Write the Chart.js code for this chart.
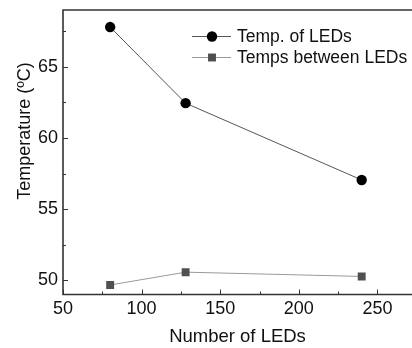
<!DOCTYPE html>
<html>
<head>
<meta charset="utf-8">
<script src="https://cdn.jsdelivr.net/npm/chart.js@4.4.1/dist/chart.umd.min.js"></script>
<style>
html,body{margin:0;padding:0;background:#fff;}
#wrap{width:412px;height:348px;position:relative;}
</style>
</head>
<body>
<div id="wrap"><canvas id="c" width="412" height="348"></canvas></div>
<script>
const ledCounts = [80, 128, 240];
const tempLEDs = [67.8, 62.45, 57.05];
const tempBetween = [49.67, 50.57, 50.27];
const seriesNames = ['Temp. of LEDs', 'Temps between LEDs'];
const xTicks = [50, 100, 150, 200, 250];
const xMinor = [75, 125, 175, 225];
const yTicks = [50, 55, 60, 65];
const yMinor = [52.5, 57.5, 62.5, 67.5];
const xTitle = 'Number of LEDs';
const yTitle = 'Temperature (\u00BAC)';

const FONT = '"Liberation Sans", Arial, sans-serif';

const framePlugin = {
  id: 'frame',
  afterDatasetsDraw(chart) {
    const {ctx, chartArea: a, scales: {x, y}} = chart;
    ctx.save();
    ctx.strokeStyle = '#333';
    ctx.lineWidth = 1.6;
    ctx.beginPath();
    ctx.moveTo(a.right + 2, a.top);
    ctx.lineTo(a.left, a.top);
    ctx.lineTo(a.left, a.bottom);
    ctx.lineTo(a.right + 2, a.bottom);
    ctx.stroke();
    ctx.lineWidth = 1;
    ctx.beginPath();
    xTicks.forEach(v => { const p = Math.round(x.getPixelForValue(v)) + 0.5; ctx.moveTo(p, a.bottom); ctx.lineTo(p, a.bottom - 5); });
    xMinor.forEach(v => { const p = Math.round(x.getPixelForValue(v)) + 0.5; ctx.moveTo(p, a.bottom); ctx.lineTo(p, a.bottom - 3); });
    yTicks.forEach(v => { const p = Math.round(y.getPixelForValue(v)) + 0.5; ctx.moveTo(a.left, p); ctx.lineTo(a.left + 5, p); });
    yMinor.forEach(v => { const p = Math.round(y.getPixelForValue(v)) + 0.5; ctx.moveTo(a.left, p); ctx.lineTo(a.left + 3, p); });
    ctx.stroke();
    // y axis title
    ctx.fillStyle = '#111';
    ctx.font = '18px ' + FONT;
    ctx.textAlign = 'center';
    ctx.textBaseline = 'middle';
    ctx.translate(25, 131);
    ctx.rotate(-Math.PI / 2);
    ctx.fillText(yTitle, 0, 0);
    ctx.restore();
  }
};

const legendPlugin = {
  id: 'customLegend',
  afterDraw(chart) {
    const {ctx} = chart;
    const rows = [36, 57];
    ctx.save();
    chart.data.datasets.forEach((ds, i) => {
      const yy = rows[i];
      ctx.strokeStyle = ds.borderColor;
      ctx.lineWidth = 1.2;
      ctx.beginPath();
      ctx.moveTo(192, yy + 0.5);
      ctx.lineTo(231, yy + 0.5);
      ctx.stroke();
      ctx.fillStyle = ds.pointBackgroundColor;
      if (ds.pointStyle === 'circle') {
        ctx.beginPath(); ctx.arc(212, yy + 0.5, ds.pointRadius, 0, Math.PI * 2); ctx.fill();
      } else {
        const s = ds.pointRadius * Math.SQRT1_2;
        ctx.fillRect(212 - s, yy + 0.5 - s, 2 * s, 2 * s);
      }
      ctx.fillStyle = '#111';
      ctx.font = '17.5px ' + FONT;
      ctx.textBaseline = 'middle';
      ctx.textAlign = 'left';
      ctx.fillText(ds.label, 237, yy + 1);
    });
    ctx.restore();
  }
};

new Chart(document.getElementById('c'), {
  type: 'line',
  data: {
    datasets: [
      {
        label: seriesNames[0],
        data: ledCounts.map((v, i) => ({x: v, y: tempLEDs[i]})),
        borderColor: '#555',
        borderWidth: 1,
        pointStyle: 'circle',
        pointRadius: 5.2,
        pointBackgroundColor: '#000',
        pointBorderWidth: 0,
        tension: 0
      },
      {
        label: seriesNames[1],
        data: ledCounts.map((v, i) => ({x: v, y: tempBetween[i]})),
        borderColor: '#999',
        borderWidth: 1,
        pointStyle: 'rect',
        pointRadius: 5.6,
        pointBackgroundColor: '#505050',
        pointBorderWidth: 0,
        tension: 0
      }
    ]
  },
  options: {
    responsive: false,
    animation: false,
    devicePixelRatio: 1,
    layout: {autoPadding: false, padding: {top: 10, right: 0, left: 0, bottom: 0}},
    plugins: {legend: {display: false}, tooltip: {enabled: false}},
    scales: {
      x: {
        type: 'linear',
        min: 50, max: 272,
        afterBuildTicks: s => { s.ticks = xTicks.map(v => ({value: v})); },
        afterFit: s => { s.height = 53.5; s.paddingLeft = 0; s.paddingRight = 0; },
        grid: {display: false, drawTicks: false},
        border: {display: false},
        ticks: {color: '#111', font: {family: FONT, size: 18}, padding: 4, maxRotation: 0, autoSkip: false},
        title: {display: true, text: xTitle, color: '#111', font: {family: FONT, size: 18.5}, padding: {top: 0, bottom: 0}}
      },
      y: {
        type: 'linear',
        min: 49, max: 69,
        afterBuildTicks: s => { s.ticks = yTicks.map(v => ({value: v})); },
        afterFit: s => { s.width = 63; s.paddingTop = 0; s.paddingBottom = 0; },
        grid: {display: false, drawTicks: false},
        border: {display: false},
        ticks: {color: '#111', font: {family: FONT, size: 18}, padding: 5, autoSkip: false},
        title: {display: false}
      }
    }
  },
  plugins: [framePlugin, legendPlugin]
});
</script>
</body>
</html>
